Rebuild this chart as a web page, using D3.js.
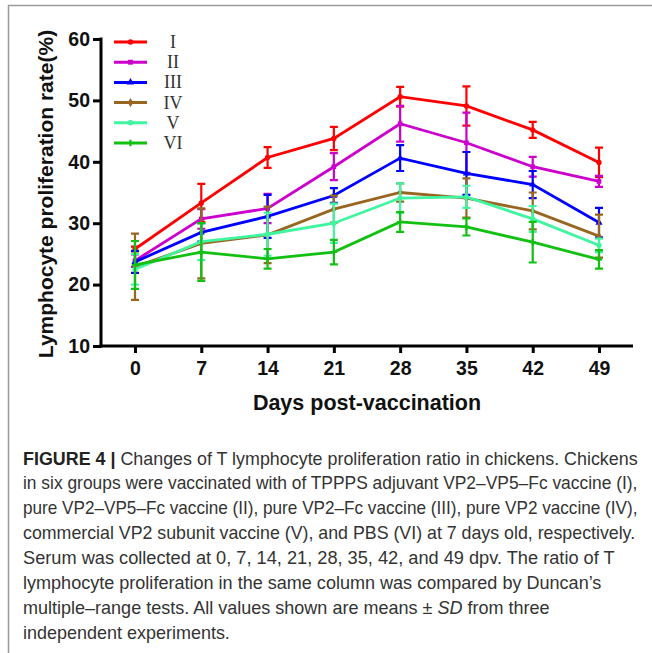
<!DOCTYPE html>
<html>
<head>
<meta charset="utf-8">
<script src="https://cdn.jsdelivr.net/npm/d3@7"></script>
<style>
  body { margin: 0; background: #fff; }
  svg { display: block; }
</style>
</head>
<body>
<script>
const days = [0, 7, 14, 21, 28, 35, 42, 49];
const yTicks = [10, 20, 30, 40, 50, 60];
const groups = ["I", "II", "III", "IV", "V", "VI"];
const colors = ["#ff0000", "#cc00cc", "#0000ff", "#996622", "#40f5a0", "#11c011"];
const symbols = [d3.symbolCircle, d3.symbolSquare, d3.symbolTriangle, d3.symbolDiamond, d3.symbolCircle, d3.symbolCross];

// means and SD
const meanI   = [25.8, 33.3, 40.7, 43.8, 50.6, 49.1, 45.2, 39.9];
const sdI     = [0.4, 3.1, 1.7, 1.9, 1.6, 3.2, 1.3, 2.4];
const meanII  = [23.9, 30.7, 32.4, 39.2, 46.2, 43.1, 39.2, 36.8];
const sdII    = [1.0, 1.6, 2.4, 2.2, 2.9, 4.9, 1.6, 0.9];
const meanIII = [23.7, 28.5, 31.1, 34.5, 40.6, 38.1, 36.3, 30.1];
const sdIII   = [1.8, 1.5, 3.5, 1.2, 2.1, 3.5, 2.2, 2.4];
const meanIV  = [22.9, 26.7, 28.1, 32.3, 35.0, 34.1, 32.0, 27.9];
const sdIV    = [5.4, 5.7, 4.6, 2.2, 1.5, 3.2, 3.0, 3.5];
const meanV   = [22.5, 27.0, 28.2, 30.0, 34.1, 34.3, 30.7, 26.4];
const sdV     = [2.5, 3.0, 3.5, 3.2, 2.4, 1.8, 2.1, 1.1];
const meanVI  = [23.2, 25.3, 24.2, 25.3, 30.2, 29.4, 26.9, 24.1];
const sdVI    = [3.9, 4.7, 1.6, 2.0, 1.6, 1.4, 3.3, 1.5];

const means = [meanI, meanII, meanIII, meanIV, meanV, meanVI];
const sds = [sdI, sdII, sdIII, sdIV, sdV, sdVI];

const captionLines = [
  "Changes of T lymphocyte proliferation ratio in chickens. Chickens",
  "in six groups were vaccinated with of TPPPS adjuvant VP2\u2013VP5\u2013Fc vaccine (I),",
  "pure VP2\u2013VP5\u2013Fc vaccine (II), pure VP2\u2013Fc vaccine (III), pure VP2 vaccine (IV),",
  "commercial VP2 subunit vaccine (V), and PBS (VI) at 7 days old, respectively.",
  "Serum was collected at 0, 7, 14, 21, 28, 35, 42, and 49 dpv. The ratio of T",
  "lymphocyte proliferation in the same column was compared by Duncan\u2019s",
  "multiple\u2013range tests. All values shown are means \u00b1 SD from three",
  "independent experiments."
];
// width each caption line takes in the figure
const captionWidths = [615, 615, 615, 613, 592, 579, 527, 207];

const W = 652, H = 653;
const svg = d3.select("body").append("svg")
    .attr("width", W)
    .attr("height", H);

// frame of the figure page
svg.append("path")
    .attr("d", "M8.5," + H + "V5.5H" + W)
    .attr("fill", "none")
    .attr("stroke", "#9a9a9a")
    .attr("stroke-width", 1.5);

const x = d3.scaleLinear().domain([0, 49]).range([135, 599]);
const y = d3.scaleLinear().domain([10, 60]).range([346, 39]);
const axisX0 = 101, axisX1 = 633;
const font = "Liberation Sans, Arial, sans-serif";

// y axis
const gy = svg.append("g")
    .attr("transform", "translate(" + axisX0 + ",0)")
    .call(d3.axisLeft(y).tickValues(yTicks).tickSize(8).tickSizeOuter(0).tickPadding(3));
gy.select(".domain").remove();
gy.selectAll(".tick line").attr("stroke", "#000").attr("stroke-width", 3);
gy.selectAll(".tick text")
    .attr("font-family", font)
    .attr("font-weight", "bold")
    .attr("font-size", 19.5)
    .attr("fill", "#111");

// x axis
const gx = svg.append("g")
    .attr("transform", "translate(0," + y(10) + ")")
    .call(d3.axisBottom(x).tickValues(days).tickSize(7).tickSizeOuter(0).tickPadding(8));
gx.select(".domain").remove();
gx.selectAll(".tick line").attr("stroke", "#000").attr("stroke-width", 3);
gx.selectAll(".tick text")
    .attr("font-family", font)
    .attr("font-weight", "bold")
    .attr("font-size", 19.5)
    .attr("fill", "#111");

svg.append("line")
    .attr("x1", axisX0).attr("x2", axisX0)
    .attr("y1", y(60) - 1.5).attr("y2", y(10) + 1.5)
    .attr("stroke", "#000").attr("stroke-width", 3);
svg.append("line")
    .attr("x1", axisX0 - 1.5).attr("x2", axisX1)
    .attr("y1", y(10)).attr("y2", y(10))
    .attr("stroke", "#000").attr("stroke-width", 3);

// axis titles
svg.append("text")
    .attr("x", 367)
    .attr("y", 410)
    .attr("text-anchor", "middle")
    .attr("font-family", font)
    .attr("font-weight", "bold")
    .attr("font-size", 21.5)
    .attr("fill", "#111")
    .text("Days post-vaccination");

svg.append("text")
    .attr("transform", "translate(53,194) rotate(-90)")
    .attr("text-anchor", "middle")
    .attr("font-family", font)
    .attr("font-weight", "bold")
    .attr("font-size", 21)
    .attr("fill", "#111")
    .text("Lymphocyte proliferation rate(%)");

// series
const line = d3.line()
    .x((d, i) => x(days[i]))
    .y(d => y(d));

groups.forEach(function (g, k) {
    const grp = svg.append("g").attr("class", "series-" + g);
    const pts = means[k].map((m, i) => ({day: days[i], m: m, sd: sds[k][i]}));

    grp.selectAll(".err")
        .data(pts)
        .enter().append("path")
        .attr("class", "err")
        .attr("fill", "none")
        .attr("stroke", colors[k])
        .attr("stroke-width", 2.2)
        .attr("d", function (d) {
            const cx = x(d.day), t = y(d.m + d.sd), b = y(d.m - d.sd);
            return "M" + (cx - 4) + "," + t + "H" + (cx + 4) +
                "M" + cx + "," + t + "V" + b +
                "M" + (cx - 4) + "," + b + "H" + (cx + 4);
        });

    grp.append("path")
        .datum(means[k])
        .attr("fill", "none")
        .attr("stroke", colors[k])
        .attr("stroke-width", 2.8)
        .attr("d", line);

    grp.selectAll(".pt")
        .data(pts)
        .enter().append("path")
        .attr("class", "pt")
        .attr("transform", d => "translate(" + x(d.day) + "," + y(d.m) + ")")
        .attr("d", d3.symbol().type(symbols[k]).size(22))
        .attr("fill", colors[k]);
});

// legend
const legend = svg.append("g");
groups.forEach(function (g, k) {
    const ly = 42 + k * 20.2;
    legend.append("line")
        .attr("x1", 114).attr("x2", 147)
        .attr("y1", ly).attr("y2", ly)
        .attr("stroke", colors[k])
        .attr("stroke-width", 3);
    legend.append("path")
        .attr("transform", "translate(130.5," + ly + ")")
        .attr("d", d3.symbol().type(symbols[k]).size(24))
        .attr("fill", colors[k]);
    legend.append("text")
        .attr("x", 173)
        .attr("y", ly + 6)
        .attr("text-anchor", "middle")
        .attr("font-family", "Liberation Serif, Times New Roman, serif")
        .attr("font-size", 18)
        .attr("fill", "#333")
        .text(g);
});

// caption: each line squeezed to the width it has in the figure
const cap = svg.append("g")
    .attr("font-family", "Liberation Sans Narrow, Arial Narrow, Liberation Sans, Arial, sans-serif")
    .attr("font-size", 17.5)
    .attr("fill", "#333");

captionLines.forEach(function (s, i) {
    const t = cap.append("text")
        .attr("x", 0)
        .attr("y", 0);
    if (i === 0) {
        t.append("tspan").attr("font-weight", "bold").attr("fill", "#222").text("FIGURE 4 | ");
        t.append("tspan").text(s);
    } else if (i === 6) {
        const parts = s.split("SD");
        t.append("tspan").text(parts[0]);
        t.append("tspan").attr("font-style", "italic").text("SD");
        t.append("tspan").text(parts[1]);
    } else {
        t.text(s);
    }
    const sx = captionWidths[i] / t.node().getComputedTextLength();
    t.attr("transform", "translate(23," + (464.5 + i * 24.9) + ") scale(" + sx + ",1)");
});
</script>
</body>
</html>
